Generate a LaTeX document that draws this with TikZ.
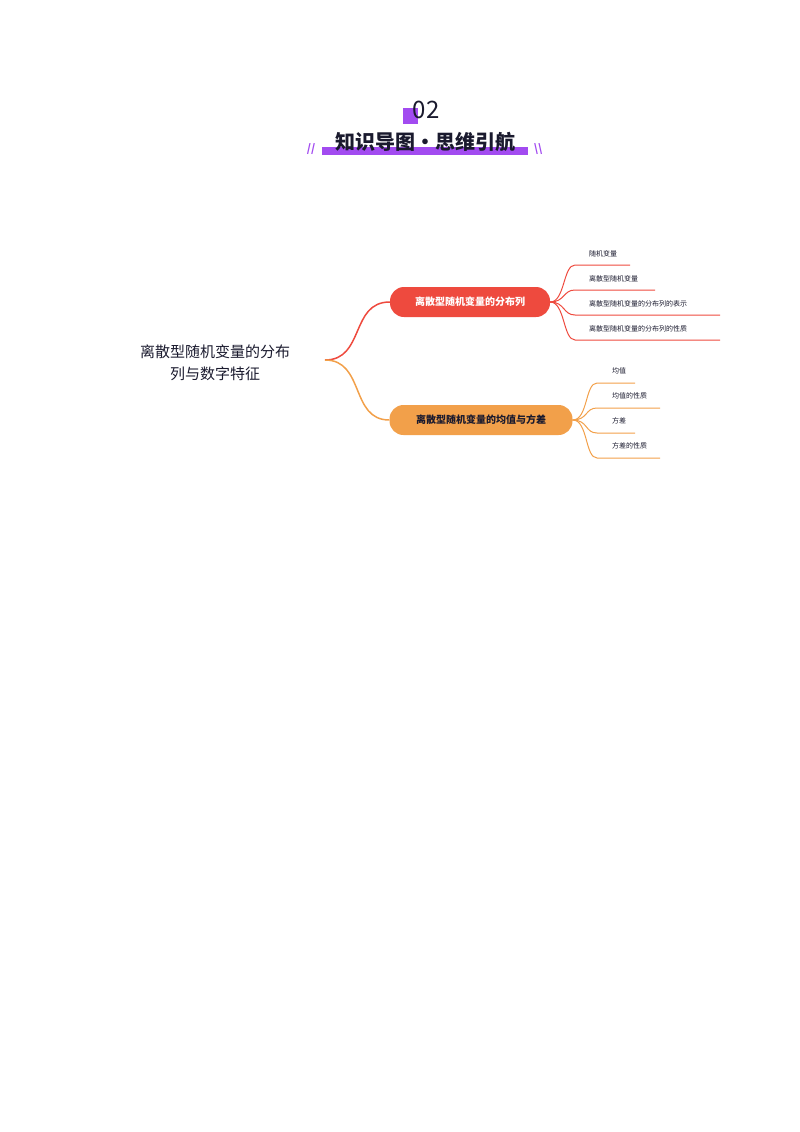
\documentclass[tikz,border=0pt]{standalone}
\usepackage{fontspec}
\setmainfont{Noto Sans CJK SC}
\definecolor{pur}{HTML}{A24BF0}
\definecolor{rd}{HTML}{EE4A3E}
\definecolor{org}{HTML}{F2A04A}
\definecolor{ink}{HTML}{1A1A2E}
\begin{document}
\begin{tikzpicture}[x=1pt,y=-1pt,
  leaf/.style={anchor=west,font=\fontsize{7}{8}\selectfont,text=ink,inner sep=0pt},
  mainbox/.style={rounded corners=14pt,minimum height=30pt,font=\bfseries\fontsize{10}{11}\selectfont,inner sep=0pt}]
\useasboundingbox (0,0) rectangle (800,1132);
\fill[pur] (403,108) rectangle (418,124);
\node[font=\fontsize{24}{26}\selectfont,text=ink] (num) at (426,110) {02};
\fill[pur] (322,147) rectangle (528,155);
\node[font=\bfseries\fontsize{20}{22}\selectfont,text=ink] (title) at (425,142) {知识导图·思维引航};
\node[text=pur,font=\bfseries\fontsize{11}{11}\selectfont] (sl) at (311,149) {//};
\node[text=pur,font=\bfseries\fontsize{11}{11}\selectfont] (sr) at (538,149) {\textbackslash\textbackslash};
\node[align=center,font=\fontsize{15}{22}\selectfont,text=ink] (root) at (215,363) {离散型随机变量的分布\\列与数字特征};
\coordinate (r0) at (325,360);
\node[mainbox,fill=rd,text=white,minimum width=160pt] (a) at (470,302) {离散型随机变量的分布列};
\node[mainbox,fill=org,text=ink,minimum width=183pt] (b) at (481,420) {离散型随机变量的均值与方差};
\draw[rd,line width=1.5pt] (r0) .. controls (365,360) and (350,302) .. (a.west);
\draw[org,line width=1.5pt] (r0) .. controls (365,360) and (350,420) .. (b.west);
\foreach \t/\y/\e [count=\i] in {随机变量/265/630,离散型随机变量/290/655,离散型随机变量的分布列的表示/315/720,离散型随机变量的分布列的性质/340/720}{
  \node[leaf] (ra\i) at (589,\y-11) {\t};
  \coordinate (rs\i) at (575,\y);
  \draw[rd,line width=1pt] (a.east) .. controls (565,302) and (563,\y) .. (rs\i) -- (\e,\y);
}
\foreach \t/\y/\e [count=\i] in {均值/383/635,均值的性质/408/660,方差/433/635,方差的性质/458/660}{
  \node[leaf] (oa\i) at (612,\y-12) {\t};
  \coordinate (os\i) at (597,\y);
  \draw[org,line width=1pt] (b.east) .. controls (588,420) and (585,\y) .. (os\i) -- (\e,\y);
}
\end{tikzpicture}
\end{document}
